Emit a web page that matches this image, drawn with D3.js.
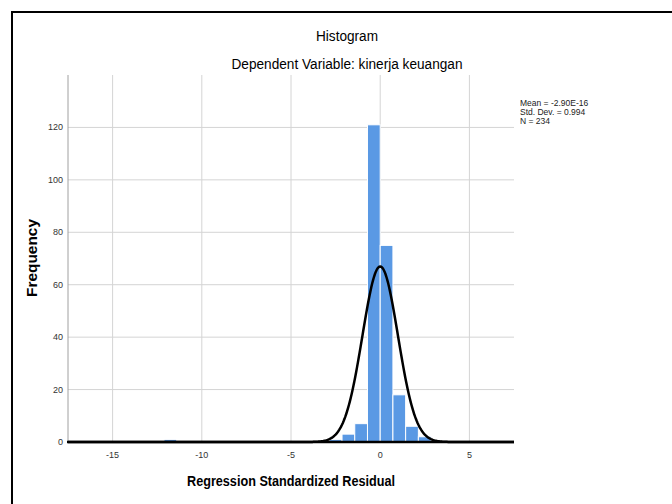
<!DOCTYPE html>
<html>
<head>
<meta charset="utf-8">
<script src="https://cdn.jsdelivr.net/npm/d3@7"></script>
<style>
  body { margin: 0; background: #fff; }
  text { font-family: "Liberation Sans", Arial, sans-serif; }
</style>
</head>
<body>
<div id="container"></div>
<script>
var width = 672,
    height = 504;

// histogram bins (left edge) and counts
var binWidth = 0.713;
var binStarts = [-12.12, -2.852, -2.139, -1.426, -0.713, 0, 0.713, 1.426, 2.139];
var binCounts = [1, 1, 3, 7, 121, 75, 18, 6, 2];

var xTicks = [-15, -10, -5, 0, 5];
var yTicks = [0, 20, 40, 60, 80, 100, 120];

var stats = { mean: -2.90e-16, sd: 0.994, n: 234 };
var statLines = ["Mean = -2.90E-16", "Std. Dev. = 0.994", "N = 234"];

var svg = d3.select("#container").append("svg")
    .attr("width", width)
    .attr("height", height);

// outer frame
svg.append("rect")
    .attr("x", 12).attr("y", 12)
    .attr("width", 700).attr("height", 520)
    .attr("fill", "none")
    .attr("stroke", "#000")
    .attr("stroke-width", 2);

var x = d3.scaleLinear().domain([-17.5, 7.5]).range([68, 514]);
var y = d3.scaleLinear().domain([0, 140]).range([442, 75]);

// grid
svg.append("g").selectAll("line.h")
    .data(yTicks.slice(1))
    .enter().append("line")
    .attr("x1", x(-17.5)).attr("x2", x(7.5))
    .attr("y1", d => y(d)).attr("y2", d => y(d))
    .attr("stroke", "#d4d4d4").attr("stroke-width", 1);

svg.append("g").selectAll("line.v")
    .data(xTicks)
    .enter().append("line")
    .attr("x1", d => x(d)).attr("x2", d => x(d))
    .attr("y1", y(140)).attr("y2", y(0))
    .attr("stroke", "#d4d4d4").attr("stroke-width", 1);

// left axis line
svg.append("line")
    .attr("x1", x(-17.5)).attr("x2", x(-17.5))
    .attr("y1", y(140)).attr("y2", y(0))
    .attr("stroke", "#a0a0a0").attr("stroke-width", 1);

// bars
svg.append("g").selectAll("rect")
    .data(binStarts)
    .enter().append("rect")
    .attr("x", d => x(d))
    .attr("width", x(binWidth) - x(0))
    .attr("y", (d, i) => y(binCounts[i]))
    .attr("height", (d, i) => y(0) - y(binCounts[i]))
    .attr("fill", "#5a99e4")
    .attr("stroke", "#fff")
    .attr("stroke-width", 1);

// baseline
svg.append("line")
    .attr("x1", x(-17.5) - 1).attr("x2", x(7.5))
    .attr("y1", y(0)).attr("y2", y(0))
    .attr("stroke", "#000").attr("stroke-width", 2.5);

// normal curve
var scaleN = stats.n * binWidth / (stats.sd * Math.sqrt(2 * Math.PI));
var pts = d3.range(-17.5, 7.5001, 0.05).map(v => [v, scaleN * Math.exp(-0.5 * Math.pow((v - stats.mean) / stats.sd, 2))]);
svg.append("path")
    .datum(pts)
    .attr("d", d3.line().x(d => x(d[0])).y(d => y(d[1])))
    .attr("fill", "none")
    .attr("stroke", "#000")
    .attr("stroke-width", 2.5);

// tick labels
svg.append("g").selectAll("text")
    .data(xTicks)
    .enter().append("text")
    .attr("x", d => x(d))
    .attr("y", 458)
    .attr("text-anchor", "middle")
    .attr("font-size", 9)
    .attr("fill", "#333")
    .text(d => d);

svg.append("g").selectAll("text")
    .data(yTicks)
    .enter().append("text")
    .attr("x", 63)
    .attr("y", d => y(d) + 3)
    .attr("text-anchor", "end")
    .attr("font-size", 9)
    .attr("fill", "#333")
    .text(d => d);

// titles
svg.append("text")
    .attr("x", 347).attr("y", 41)
    .attr("text-anchor", "middle")
    .attr("font-size", 14)
    .attr("textLength", 62).attr("lengthAdjust", "spacingAndGlyphs")
    .text("Histogram");

svg.append("text")
    .attr("x", 347).attr("y", 69)
    .attr("text-anchor", "middle")
    .attr("font-size", 14)
    .attr("textLength", 231).attr("lengthAdjust", "spacingAndGlyphs")
    .text("Dependent Variable: kinerja keuangan");

svg.append("text")
    .attr("x", 291).attr("y", 486)
    .attr("text-anchor", "middle")
    .attr("font-size", 14)
    .attr("font-weight", "bold")
    .attr("textLength", 208).attr("lengthAdjust", "spacingAndGlyphs")
    .text("Regression Standardized Residual");

svg.append("text")
    .attr("transform", "translate(37,258) rotate(-90)")
    .attr("text-anchor", "middle")
    .attr("font-size", 14)
    .attr("font-weight", "bold")
    .attr("textLength", 78).attr("lengthAdjust", "spacingAndGlyphs")
    .text("Frequency");

// stats box
svg.append("g").selectAll("text")
    .data(statLines)
    .enter().append("text")
    .attr("x", 520)
    .attr("y", (d, i) => 106 + i * 9)
    .attr("font-size", 8.5)
    .attr("fill", "#222")
    .text(d => d);
</script>
</body>
</html>
